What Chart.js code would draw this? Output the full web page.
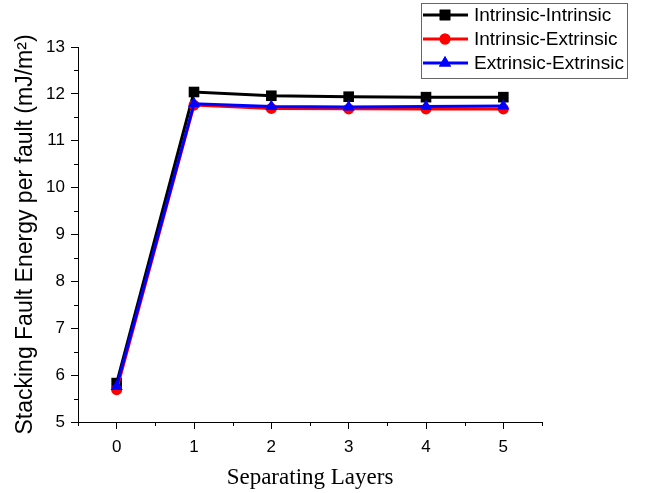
<!DOCTYPE html>
<html>
<head>
<meta charset="utf-8">
<script src="https://cdn.jsdelivr.net/npm/chart.js@4"></script>
<style>
  html, body { margin: 0; padding: 0; background: #fff; }
  #wrap { width: 645px; height: 493px; }
</style>
</head>
<body>
<div id="wrap"><canvas id="chart" width="645" height="493"></canvas></div>
<script>
// data
const layers = [0, 1, 2, 3, 4, 5];
const intrinsicIntrinsic = [5.83, 12.04, 11.96, 11.94, 11.93, 11.93];
const intrinsicExtrinsic = [5.69, 11.76, 11.69, 11.68, 11.68, 11.68];
const extrinsicExtrinsic = [5.76, 11.79, 11.73, 11.72, 11.73, 11.74];
const seriesNames = ['Intrinsic-Intrinsic', 'Intrinsic-Extrinsic', 'Extrinsic-Extrinsic'];

function pts(ys) {
    return layers.map((x, i) => ({ x: x, y: ys[i] }));
}

const styles = [
    { color: '#000000', point: 'rect', radius: 7.5 },
    { color: '#ff0000', point: 'circle', radius: 5.5 },
    { color: '#0000ff', point: 'triangle', radius: 7 }
];

// minor ticks (half steps) drawn shorter, and the legend box
const minorTicks = {
    id: 'minorTicks',
    afterDraw(chart) {
        const ctx = chart.ctx;
        const xs = chart.scales.x, ys = chart.scales.y;
        ctx.save();
        ctx.strokeStyle = '#000';
        ctx.lineWidth = 1;
        ctx.beginPath();
        for (let v = -0.5; v <= 5.5; v += 1) {
            const px = Math.round(xs.getPixelForValue(v)) + 0.5;
            ctx.moveTo(px, xs.top);
            ctx.lineTo(px, xs.top + 4);
        }
        for (let v = 5.5; v < 13; v += 1) {
            const py = Math.round(ys.getPixelForValue(v)) + 0.5;
            ctx.moveTo(ys.right, py);
            ctx.lineTo(ys.right - 4, py);
        }
        ctx.stroke();

        // legend
        ctx.strokeStyle = '#666';
        ctx.strokeRect(421.5, 3.5, 206, 75);
        ctx.font = '19px "Liberation Sans", Arial, sans-serif';
        ctx.textBaseline = 'middle';
        ctx.fillStyle = '#000';
        seriesNames.forEach((name, i) => {
            const y = 15 + i * 24;
            const st = styles[i];
            ctx.strokeStyle = st.color;
            ctx.lineWidth = 3;
            ctx.beginPath();
            ctx.moveTo(423, y);
            ctx.lineTo(468, y);
            ctx.stroke();
            ctx.fillStyle = st.color;
            Chart.helpers.drawPoint(ctx, { pointStyle: st.point, radius: st.radius, borderWidth: 0 }, 445, y);
            ctx.fill();
            ctx.fillStyle = '#000';
            ctx.fillText(name, 474, y + 1);
        });
        ctx.restore();
    }
};

const chartData = {
    datasets: [
        { label: seriesNames[0], data: pts(intrinsicIntrinsic), order: 3 },
        { label: seriesNames[1], data: pts(intrinsicExtrinsic), order: 2 },
        { label: seriesNames[2], data: pts(extrinsicExtrinsic), order: 1 }
    ].map((d, i) => Object.assign(d, {
        borderColor: styles[i].color,
        backgroundColor: styles[i].color,
        pointStyle: styles[i].point,
        pointRadius: styles[i].radius,
        pointBorderWidth: 0,
        borderWidth: 3,
        tension: 0
    }))
};

const tickFont = { family: '"Liberation Sans", Arial, sans-serif', size: 17 };
const majorTick = ctx => (ctx.tick && Number.isInteger(ctx.tick.value)) ? '#000' : 'rgba(0,0,0,0)';

new Chart(document.getElementById('chart'), {
    type: 'line',
    data: chartData,
    options: {
        responsive: false,
        animation: false,
        layout: { padding: { left: 0, top: 47, right: 103, bottom: 0 } },
        plugins: { legend: { display: false }, tooltip: { enabled: false } },
        scales: {
            x: {
                type: 'linear',
                min: -0.5,
                max: 5.5,
                afterFit: s => { s.height = 71; },
                border: { display: true, color: '#000', width: 1 },
                grid: { drawOnChartArea: false, tickLength: 7, tickColor: majorTick },
                ticks: {
                    stepSize: 0.5,
                    autoSkip: false,
                    maxRotation: 0,
                    padding: 8,
                    color: '#000',
                    font: tickFont,
                    callback: v => Number.isInteger(v) ? v : ''
                },
                title: {
                    display: true,
                    text: 'Separating Layers',
                    color: '#000',
                    font: { family: '"Liberation Serif", "Times New Roman", serif', size: 23 },
                    padding: { top: 0, bottom: 1 }
                }
            },
            y: {
                min: 5,
                max: 13,
                afterFit: s => { s.width = 78; },
                border: { display: true, color: '#000', width: 1 },
                grid: { drawOnChartArea: false, tickLength: 7, tickColor: majorTick },
                ticks: {
                    stepSize: 0.5,
                    autoSkip: false,
                    padding: 6,
                    color: '#000',
                    font: tickFont,
                    callback: v => Number.isInteger(v) ? v : ''
                },
                title: {
                    display: true,
                    text: 'Stacking Fault Energy per fault (mJ/m\u00B2)',
                    color: '#000',
                    font: { family: '"Liberation Sans", Arial, sans-serif', size: 23 },
                    padding: { top: 12, bottom: 0 }
                }
            }
        }
    },
    plugins: [minorTicks]
});
</script>
</body>
</html>
